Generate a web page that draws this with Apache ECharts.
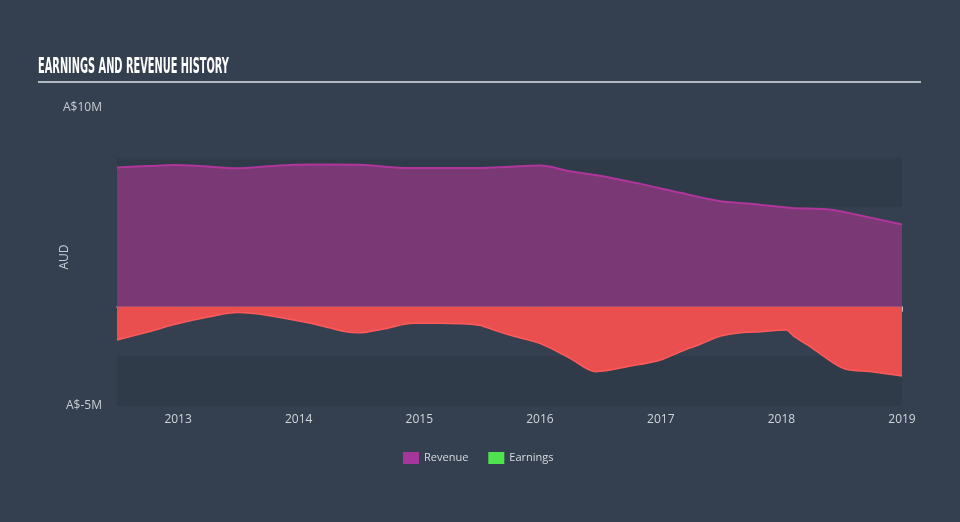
<!DOCTYPE html>
<html>
<head>
<meta charset="utf-8">
<script src="https://cdn.jsdelivr.net/npm/echarts@6/dist/echarts.min.js"></script>
<style>
html,body{margin:0;padding:0;background:#344050;}
#c{width:960px;height:522px;}
</style>
</head>
<body>
<div id="c"></div>
<script>
const titleText = 'EARNINGS AND REVENUE HISTORY';
const seriesNames = ['Revenue', 'Earnings'];
const yTickLabels = {'10': 'A$10M', '-5': 'A$-5M'};

const revDates = ['2012-06-30','2012-10-05','2012-12-20','2013-03-07','2013-06-28','2013-09-20','2013-12-05','2014-03-03','2014-07-03','2014-12-01','2015-03-03','2015-07-01','2015-10-01','2016-01-01','2016-04-01','2016-06-17','2016-11-01','2017-03-01','2017-07-01','2017-10-01','2018-01-30','2018-05-30','2018-10-01','2019-01-01'];
const revValues = [7.01,7.08,7.13,7.08,6.97,7.05,7.13,7.15,7.14,6.98,6.98,6.98,7.04,7.10,6.82,6.63,6.18,5.73,5.31,5.18,4.97,4.88,4.47,4.14];

const earnDates = ['2012-06-30','2012-10-05','2012-12-20','2013-04-05','2013-06-28','2013-08-25','2013-11-05','2014-03-03','2014-05-20','2014-07-03','2014-09-15','2014-12-15','2015-03-03','2015-07-01','2015-08-15','2015-10-01','2016-01-01','2016-04-01','2016-06-17','2016-10-01','2016-12-31','2017-03-01','2017-05-02','2017-07-01','2017-08-30','2017-10-30','2018-01-15','2018-02-08','2018-04-01','2018-06-01','2018-07-15','2018-10-01','2019-01-01'];
const earnValues = [-1.68,-1.26,-0.90,-0.51,-0.29,-0.36,-0.55,-0.93,-1.25,-1.31,-1.12,-0.84,-0.84,-0.93,-1.18,-1.43,-1.85,-2.60,-3.27,-2.99,-2.68,-2.27,-1.88,-1.48,-1.31,-1.26,-1.18,-1.50,-2.05,-2.77,-3.15,-3.27,-3.49];

const chart = echarts.init(document.getElementById('c'), null, {renderer: 'canvas'});
const labelFont = '"Open Sans", sans-serif';

chart.setOption({
  backgroundColor: '#344050',
  animation: false,
  graphic: [
    {
      type: 'text', left: 38, top: 57, scaleX: 0.52,
      style: {text: titleText, fill: '#ffffff', font: 'bold 21px "Liberation Sans Narrow", "DejaVu Sans Condensed", sans-serif'}
    },
    {
      type: 'rect', shape: {x: 38, y: 81, width: 883, height: 2},
      style: {fill: '#b3bac2'}
    }
  ],
  grid: {left: 117, right: 58, top: 108, bottom: 116},
  legend: {
    left: 398, top: 447,
    itemWidth: 16, itemHeight: 12, itemGap: 20,
    icon: 'rect',
    textStyle: {color: '#d6dade', fontSize: 11, fontFamily: labelFont},
    data: [
      {name: seriesNames[0], itemStyle: {color: '#a6379a'}},
      {name: seriesNames[1], itemStyle: {color: '#4ee44e'}}
    ]
  },
  xAxis: {
    type: 'time',
    min: '2012-06-30', max: '2019-01-01',
    axisLine: {lineStyle: {color: '#b7c0ca', width: 1.5}},
    axisTick: {show: true, length: 5, lineStyle: {color: '#b7c0ca'}},
    splitLine: {show: false},
    axisLabel: {
      color: '#d0d5db', fontSize: 12, fontFamily: labelFont, margin: 8,
      formatter: '{yyyy}', showMinLabel: false, showMaxLabel: true
    }
  },
  yAxis: {
    type: 'value', min: -5, max: 10, interval: 2.5,
    name: 'AUD', nameLocation: 'middle', nameGap: 46, nameMoveOverlap: false,
    nameTextStyle: {color: '#c8cdd3', fontSize: 12, fontFamily: labelFont},
    axisLine: {show: false}, axisTick: {show: false},
    splitLine: {show: false},
    splitArea: {show: true, areaStyle: {color: ['rgba(0,0,0,0.075)', 'rgba(0,0,0,0)']}},
    axisLabel: {
      color: '#c8cdd3', fontSize: 12, fontFamily: labelFont, margin: 15,
      formatter: v => yTickLabels[String(v)] || ''
    }
  },
  series: [
    {
      name: seriesNames[0], type: 'line', smooth: 0.3, symbol: 'none',
      data: revDates.map((d, i) => [d, revValues[i]]),
      lineStyle: {color: '#b0369b', width: 2},
      itemStyle: {color: '#a6379a'},
      areaStyle: {color: '#7a3874', opacity: 1}
    },
    {
      name: seriesNames[1], type: 'line', smooth: 0.3, symbol: 'none',
      data: earnDates.map((d, i) => [d, earnValues[i]]),
      lineStyle: {color: '#ff5a5a', width: 1.5},
      itemStyle: {color: '#4ee44e'},
      areaStyle: {color: '#ea4f50', opacity: 1}
    }
  ]
});
</script>
</body>
</html>
